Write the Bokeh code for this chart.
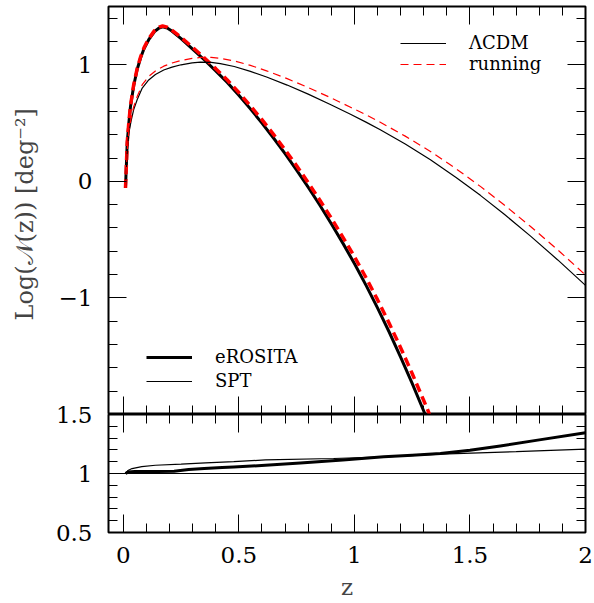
from bokeh.plotting import figure
from bokeh.models import (Range1d, FixedTicker, LinearAxis, CustomJSTickFormatter,
                          Legend, LegendItem, Span)
from bokeh.layouts import column
from bokeh.embed import file_html
from bokeh.resources import INLINE

FONT = "DejaVu Serif"

# ---------------- data ----------------
# eROSITA, log N(z) [deg^-2]
z_ero = [0.0095, 0.017, 0.024, 0.031, 0.045, 0.06, 0.075, 0.09, 0.11, 0.135, 0.155, 0.17,
         0.19, 0.21, 0.25, 0.30, 0.35, 0.40, 0.45, 0.50, 0.55, 0.60, 0.65, 0.70, 0.75,
         0.80, 0.85, 0.90, 0.95, 1.00, 1.05, 1.10, 1.15, 1.20, 1.25, 1.30, 1.315]
logN_ero_lcdm = [-0.057, 0.33, 0.50, 0.64, 0.82, 0.96, 1.06, 1.14, 1.215, 1.285, 1.315, 1.325,
                 1.315, 1.29, 1.225, 1.135, 1.043, 0.948, 0.848, 0.738, 0.622, 0.50, 0.372,
                 0.237, 0.097, -0.05, -0.203, -0.363, -0.53, -0.705, -0.89, -1.085, -1.29,
                 -1.507, -1.733, -1.97, -2.042]
z_ero_run = [0.0095, 0.017, 0.024, 0.031, 0.045, 0.06, 0.075, 0.09, 0.11, 0.135, 0.155, 0.17,
             0.19, 0.21, 0.25, 0.30, 0.35, 0.40, 0.45, 0.50, 0.55, 0.60, 0.65, 0.70, 0.75,
             0.80, 0.85, 0.90, 0.95, 1.00, 1.05, 1.10, 1.15, 1.20, 1.25, 1.30, 1.315, 1.335]
logN_ero_run = [-0.057, 0.335, 0.507, 0.647, 0.828, 0.968, 1.068, 1.148, 1.223, 1.293, 1.323,
                1.333, 1.323, 1.298, 1.235, 1.15, 1.06, 0.967, 0.869, 0.762, 0.648, 0.529,
                0.403, 0.271, 0.134, -0.011, -0.16, -0.315, -0.478, -0.645, -0.825, -1.015,
                -1.215, -1.427, -1.648, -1.88, -1.95, -2.05]

# SPT, log N(z) [deg^-2]
z_spt = [0.0095, 0.017, 0.024, 0.035, 0.045, 0.06, 0.082, 0.11, 0.139, 0.175, 0.211, 0.25,
         0.298, 0.334, 0.38, 0.42, 0.48, 0.55, 0.62, 0.709, 0.80, 0.896, 0.983, 1.05, 1.112,
         1.22, 1.329, 1.44, 1.545, 1.65, 1.761, 1.88, 2.0]
logN_spt_lcdm = [-0.057, 0.25, 0.415, 0.53, 0.615, 0.70, 0.80, 0.87, 0.916, 0.955, 0.98, 1.0,
                 1.016, 1.022, 1.02, 1.01, 0.985, 0.944, 0.895, 0.826, 0.748, 0.66, 0.575,
                 0.508, 0.442, 0.32, 0.185, 0.034, -0.12, -0.285, -0.468, -0.674, -0.892]
logN_spt_run = [-0.057, 0.265, 0.435, 0.553, 0.64, 0.727, 0.829, 0.90, 0.947, 0.988, 1.015,
                1.037, 1.055, 1.063, 1.063, 1.055, 1.033, 0.995, 0.948, 0.881, 0.805, 0.719,
                0.636, 0.571, 0.507, 0.388, 0.256, 0.108, -0.043, -0.205, -0.385, -0.588,
                -0.803]

# ratio running / LCDM
z_ratio_ero = [0.0095, 0.02, 0.05, 0.15, 0.22, 0.283, 0.35, 0.428, 0.478, 0.615, 0.766, 0.95,
               1.127, 1.25, 1.372, 1.5, 1.631, 1.8, 2.0]
ratio_ero = [1.0, 1.012, 1.018, 1.018, 1.02, 1.033, 1.042, 1.05, 1.055, 1.07, 1.09, 1.115,
             1.141, 1.155, 1.17, 1.197, 1.233, 1.285, 1.346]
z_ratio_spt = [0.0095, 0.02, 0.038, 0.08, 0.139, 0.25, 0.356, 0.478, 0.615, 0.91, 1.13, 1.372,
               1.7, 2.0]
ratio_spt = [1.0, 1.025, 1.042, 1.058, 1.07, 1.08, 1.09, 1.1, 1.115, 1.127, 1.141, 1.165,
             1.185, 1.207]
ratio_ref = 1.0

x_major = [0, 0.5, 1, 1.5, 2]
x_minor = [round(0.1 * k, 1) for k in range(0, 21)]
ytop_major = [-1, 0, 1]
ytop_minor = [round(-2 + 0.2 * k, 1) for k in range(0, 18)]
ybot_major = [0.5, 1, 1.5]
ybot_minor = [round(0.5 + 0.1 * k, 1) for k in range(0, 11)]

X_RANGE = (-0.064, 2.0)
YTOP_RANGE = (-2.0, 1.5)
YBOT_RANGE = (0.5, 1.5)

# ---------------- helpers ----------------
fmt = CustomJSTickFormatter(code="return (Math.round(tick*10)/10).toString().replace('-', '\\u2212')")


def make_axis(ticks, minors, labels):
    ax = LinearAxis(ticker=FixedTicker(ticks=ticks, minor_ticks=minors))
    ax.axis_line_color = None
    ax.major_tick_in = 18
    ax.major_tick_out = 0
    ax.minor_tick_in = 9
    ax.minor_tick_out = 0
    ax.major_tick_line_color = "black"
    ax.minor_tick_line_color = "black"
    ax.major_tick_line_width = 1
    ax.minor_tick_line_width = 1
    if labels:
        ax.formatter = fmt
        ax.major_label_text_font = FONT
        ax.major_label_text_font_size = "23px"
        ax.major_label_text_color = "black"
        ax.major_label_standoff = 14
    else:
        ax.major_label_text_font_size = "0px"
        ax.major_label_standoff = 0
        ax.formatter = CustomJSTickFormatter(code="return ''")
    return ax


def base_fig(height, yr, mb_top, mb_bottom):
    p = figure(width=594, height=height, x_range=Range1d(*X_RANGE), y_range=Range1d(*yr),
               output_backend="svg", toolbar_location=None,
               x_axis_location=None, y_axis_location=None,
               min_border_left=108, min_border_right=9,
               min_border_top=mb_top, min_border_bottom=mb_bottom)
    p.grid.visible = False
    p.outline_line_color = "black"
    p.outline_line_width = 2
    p.outline_line_alpha = 1.0
    p.background_fill_color = "white"
    p.border_fill_color = "white"
    return p


# ---------------- top panel ----------------
top = base_fig(414, YTOP_RANGE, 6, 0)
yl = make_axis(ytop_major, ytop_minor, True)
yl.axis_label = "Log(\U0001D4A9(z))  [deg\u207B\u00B2]"
yl.axis_label_text_font = FONT
yl.axis_label_text_font_size = "24px"
yl.axis_label_text_font_style = "normal"
yl.axis_label_standoff = 17
yl.major_label_standoff = 16
top.add_layout(yl, "left")
top.add_layout(make_axis(ytop_major, ytop_minor, False), "right")
top.add_layout(make_axis(x_major, x_minor, False), "above")
top.add_layout(make_axis(x_major, x_minor, False), "below")

r_ero_l = top.line(z_ero, logN_ero_lcdm, line_color="black", line_width=3, line_join="round")
r_ero_r = top.line(z_ero_run, logN_ero_run, line_color="red", line_width=3.5, line_dash="9 5")
r_spt_l = top.line(z_spt, logN_spt_lcdm, line_color="black", line_width=1.2)
r_spt_r = top.line(z_spt, logN_spt_run, line_color="red", line_width=1.2, line_dash="8 5")


def make_legend(items, loc, spacing):
    lg = Legend(items=items, location=loc)
    lg.border_line_color = None
    lg.background_fill_alpha = 0
    lg.padding = 0
    lg.margin = 0
    lg.spacing = spacing
    lg.glyph_width = 46
    lg.glyph_height = 20
    lg.label_height = 20
    lg.label_standoff = 23
    lg.label_text_font = FONT
    lg.label_text_font_size = "18px"
    lg.label_text_color = "black"
    lg.label_text_baseline = "alphabetic"
    return lg


leg1 = make_legend([LegendItem(label="\u039BCDM", renderers=[r_spt_l]),
                    LegendItem(label="running", renderers=[r_spt_r])], (292, 340), 0)
leg2 = make_legend([LegendItem(label="eROSITA", renderers=[r_ero_l]),
                    LegendItem(label="SPT", renderers=[r_spt_l])], (38, 23), 3)
top.add_layout(leg1)
top.add_layout(leg2)

# ---------------- bottom panel (overlaps the top one by OVER px so "1.5" fits) ----------------
OVER = 14
bot = base_fig(189 + OVER, YBOT_RANGE, OVER, 71)
bot.border_fill_alpha = 0
bot.margin = (-OVER, 0, 0, 0)
bl = make_axis(ybot_major, ybot_minor, True)
bl.major_label_standoff = 16
bot.add_layout(bl, "left")
bot.add_layout(make_axis(ybot_major, ybot_minor, False), "right")
bot.add_layout(make_axis(x_major, x_minor, False), "above")
bx = make_axis(x_major, x_minor, True)
bx.major_label_standoff = 14
bx.axis_label = "z"
bx.axis_label_text_font = FONT
bx.axis_label_text_font_size = "23px"
bx.axis_label_text_font_style = "normal"
bx.axis_label_standoff = 8
bot.add_layout(bx, "below")

bot.add_layout(Span(location=ratio_ref, dimension="width", line_color="black", line_width=1))
bot.line(z_ratio_ero, ratio_ero, line_color="black", line_width=3, line_join="round")
bot.line(z_ratio_spt, ratio_spt, line_color="black", line_width=1.2)

layout = column(top, bot, spacing=0)
open("out.html", "w").write(file_html(layout, INLINE))
